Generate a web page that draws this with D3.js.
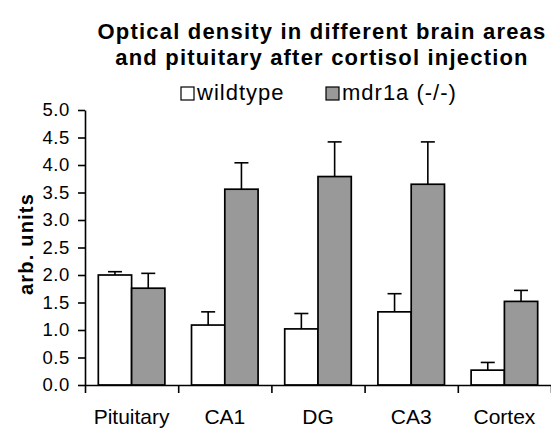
<!DOCTYPE html>
<head>
  <meta charset="utf-8">
  <script src="https://d3js.org/d3.v7.min.js"></script>
  <style>
    body { margin: 0; background: #fff; }
    text { font-family: "Liberation Sans", Arial, sans-serif; fill: #000; }
  </style>
</head>
<body>
  <svg width="551" height="428"></svg>
  <script>
var categories = ["Pituitary", "CA1", "DG", "CA3", "Cortex"];
var series = ["wildtype", "mdr1a (-/-)"];
var wildtype = [2.0, 1.09, 1.02, 1.33, 0.27];
var wildtypeErr = [0.06, 0.24, 0.28, 0.33, 0.14];
var mdr1a = [1.76, 3.56, 3.79, 3.65, 1.52];
var mdr1aErr = [0.27, 0.48, 0.63, 0.77, 0.2];
var yTicks = [0, 0.5, 1, 1.5, 2, 2.5, 3, 3.5, 4, 4.5, 5];

var colours = d3.scaleOrdinal().domain(series).range(["#ffffff", "#999999"]);

var svg = d3.select("svg"),
    plotLeft = 85, plotRight = 551, plotTop = 110, plotBottom = 385;

var x0 = d3.scaleBand().domain(categories).range([plotLeft, plotRight]);
var x1 = d3.scaleBand().domain(series).range([0, x0.bandwidth()]).paddingOuter(0.4);
var y = d3.scaleLinear().domain([0, 5]).range([plotBottom, plotTop]);
var edges = d3.scaleLinear().domain([0, categories.length]).range([plotLeft, plotRight]);

// title
var title = svg.append("text")
    .attr("text-anchor", "middle")
    .style("font-weight", "bold")
    .style("font-size", "22px")
    .style("letter-spacing", "1.2px");
title.append("tspan").attr("x", 322).attr("y", 39).text("Optical density in different brain areas");
title.append("tspan").attr("x", 322).attr("y", 65).text("and pituitary after cortisol injection");

// legend
var legendX = [181, 326];
series.forEach(function(s, i) {
  svg.append("rect")
      .attr("x", legendX[i]).attr("y", 87)
      .attr("width", 13).attr("height", 13)
      .attr("fill", colours(s))
      .attr("stroke", "#000").attr("stroke-width", 1.2);
  svg.append("text")
      .attr("x", legendX[i] + 16).attr("y", 100)
      .style("font-size", "22px")
      .style("letter-spacing", "1px")
      .text(s);
});

// bars
var rows = categories.map(function(c, i) {
  return [
    {cat: c, s: series[0], v: wildtype[i], e: wildtypeErr[i]},
    {cat: c, s: series[1], v: mdr1a[i], e: mdr1aErr[i]}
  ];
});

var groups = svg.selectAll(".grp")
    .data(rows)
  .enter().append("g")
    .attr("class", "grp")
    .attr("transform", function(d) { return "translate(" + x0(d[0].cat) + ",0)"; });

// error bars (only the upper half shows)
groups.selectAll(".err")
    .data(function(d) { return d; })
  .enter().append("g")
    .attr("class", "err")
    .each(function(d) {
      var g = d3.select(this), cx = x1(d.s) + x1.bandwidth() / 2;
      g.append("line").attr("x1", cx).attr("x2", cx)
          .attr("y1", y(d.v)).attr("y2", y(d.v + d.e))
          .attr("stroke", "#000").attr("stroke-width", 1.6);
      g.append("line").attr("x1", cx - 7).attr("x2", cx + 7)
          .attr("y1", y(d.v + d.e)).attr("y2", y(d.v + d.e))
          .attr("stroke", "#000").attr("stroke-width", 1.6);
    });

groups.selectAll("rect")
    .data(function(d) { return d; })
  .enter().append("rect")
    .attr("x", function(d) { return x1(d.s); })
    .attr("y", function(d) { return y(d.v); })
    .attr("width", x1.bandwidth())
    .attr("height", function(d) { return plotBottom - y(d.v); })
    .attr("fill", function(d) { return colours(d.s); })
    .attr("stroke", "#000")
    .attr("stroke-width", 1.7);

// y axis
var yAxis = svg.append("g")
    .attr("transform", "translate(" + plotLeft + ",0)")
    .call(d3.axisLeft(y).tickValues(yTicks).tickSize(7).tickSizeOuter(0).tickPadding(8)
      .tickFormat(d3.format(".1f")));
yAxis.selectAll("text").style("font-size", "18.5px").style("letter-spacing", "0.6px")
    .attr("font-family", null).attr("fill", "#000");

svg.append("text")
    .attr("transform", "translate(33,244) rotate(-90)")
    .attr("text-anchor", "middle")
    .style("font-weight", "bold")
    .style("font-size", "20px")
    .style("letter-spacing", "1.2px")
    .text("arb. units");

// x axis: boundary ticks
svg.append("g")
    .attr("transform", "translate(0," + plotBottom + ")")
    .call(d3.axisBottom(edges).ticks(categories.length).tickSize(8).tickSizeOuter(0).tickFormat(""));

// x axis: category labels
var xLabels = svg.append("g")
    .attr("transform", "translate(0," + plotBottom + ")")
    .call(d3.axisBottom(x0).tickSize(0).tickPadding(24));
xLabels.select(".domain").remove();
xLabels.selectAll("text").style("font-size", "21px").attr("font-family", null).attr("fill", "#000");

svg.selectAll(".domain, .tick line").attr("stroke", "#000").attr("stroke-width", 1.6);
  </script>
</body>
